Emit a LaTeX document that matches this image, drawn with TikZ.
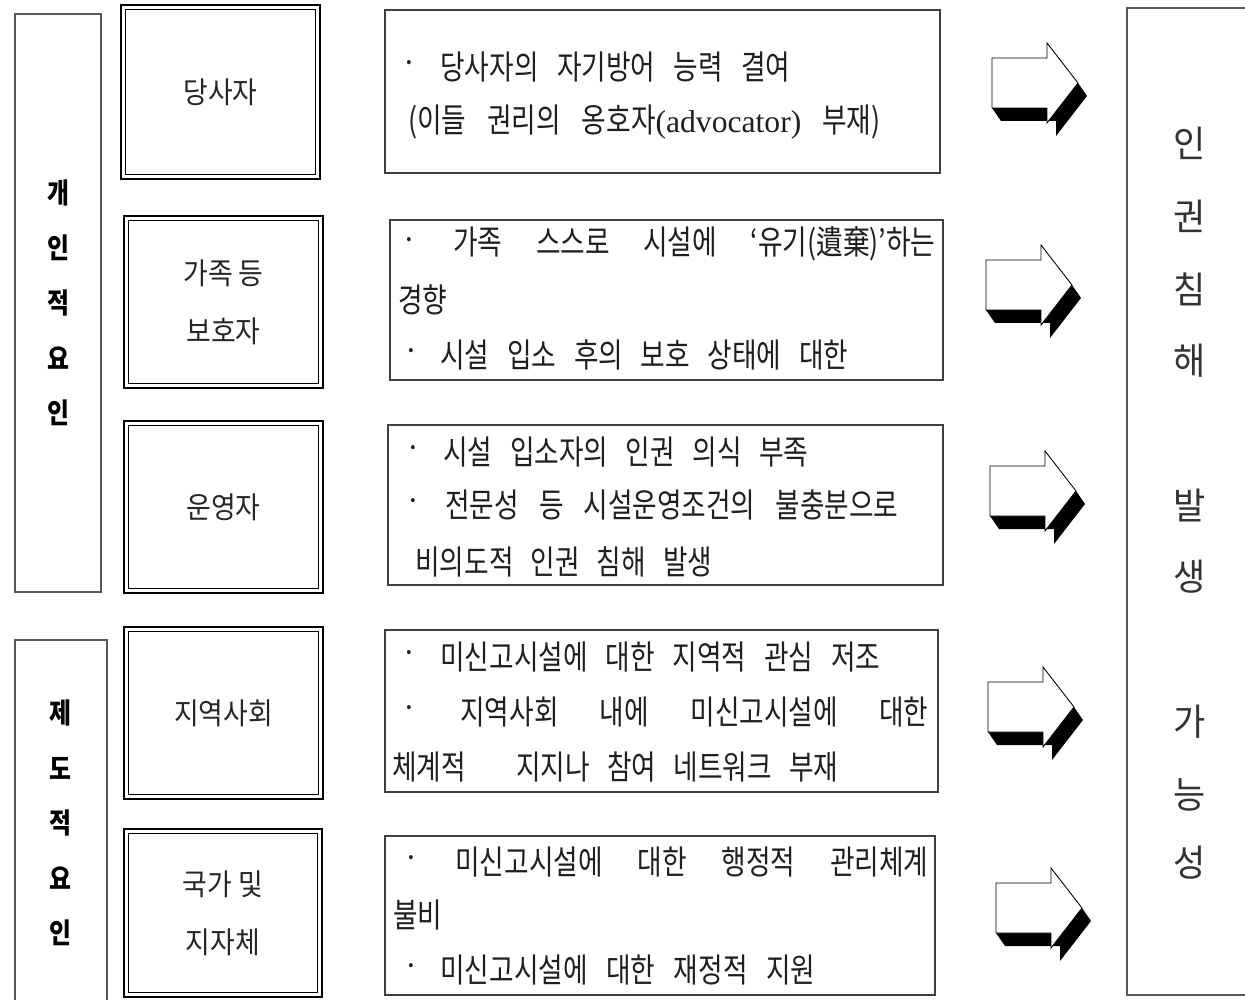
\documentclass[tikz,border=0pt]{standalone}
\usepackage{fontspec}
\setmainfont{Noto Sans CJK KR}
\newfontfamily\krc{Noto Sans CJK KR}[FakeStretch=0.9]
\newfontfamily\krt{Noto Sans CJK KR}[FakeStretch=0.8]
\newfontfamily\krv{Noto Sans CJK KR}[FakeStretch=0.85]
\newfontfamily\krw{Noto Sans CJK KR}[FakeStretch=0.95]
\newfontfamily\lser{Liberation Serif}
\newcommand\jl[2]{\makebox[\dimexpr0.02cm*#1\relax][s]{#2}}
\tikzset{
  sz/.style 2 args={minimum width=#1*0.02cm, minimum height=#2*0.02cm},
  lbox/.style={draw=black!65, line width=0.7pt, inner sep=0},
  dbox/.style={draw=black, line width=1.6pt, inner sep=0, align=center,
    font=\krc\fontsize{17}{33}\selectfont, text=black!85},
  tbox/.style={draw=black!75, line width=0.8pt, inner sep=0},
  ln/.style={anchor=west, inner sep=0, font=\krt\fontsize{19}{22}\selectfont, text=black!88},
  bul/.style={inner sep=0, font=\krw\fontsize{17}{20}\selectfont, text=black!88},
  vlab/.style={inner sep=0, font=\krv\bfseries\fontsize{16}{18}\selectfont, text=black},
  rlab/.style={inner sep=0, font=\krw\fontsize{21}{23}\selectfont, text=black!80},
  fatarrow/.pic={
    \fill[black] (0,50) -- (9,63) -- (64,63) -- (64,78) -- (95,38) -- (86,25)
       -- (55,65) -- (55,50) -- cycle;
    \filldraw[fill=white, draw=black, line width=0.5pt] (0,0) -- (55,0) -- (55,-15)
       -- (86,25) -- (55,65) -- (55,50) -- (0,50) -- cycle;
  }
}
\begin{document}
\begin{tikzpicture}[x=0.02cm, y=-0.02cm]
\useasboundingbox (0,0) rectangle (1245,1000);
\clip (0,0) rectangle (1245,1000);
\fill[white] (0,0) rectangle (1245,1000);

% left factor boxes
\node[lbox, sz={86}{578}] (L1) at (58,303) {};
\node[lbox, sz={92}{375}] (L2) at (61,827.5) {};
\foreach \c [count=\i] in {개,인,적,요,인}
  \node[vlab] (la\i) at (58,{193+55*(\i-1)}) {\c};
\foreach \c [count=\i] in {제,도,적,요,인}
  \node[vlab] (lb\i) at (60,{713+55*(\i-1)}) {\c};

% double boxes
\node[dbox, sz={199}{174}] (d1) at (220.5,92) {당사자};
\node[dbox, sz={199}{172}] (d2) at (223.5,302) {가족 등\\보호자};
\node[dbox, sz={199}{172}] (d3) at (223.5,507) {운영자};
\node[dbox, sz={199}{172}] (d4) at (223.5,713) {지역사회};
\node[dbox, sz={198}{168}] (d5) at (223,913) {국가 및\\지자체};
\foreach \n in {d1,d2,d3,d4,d5}
  \draw[line width=0.8pt] ([shift={(6,6)}]\n.north west) rectangle ([shift={(-6,-6)}]\n.south east);

% text boxes
\node[tbox, sz={555}{163}] (t1) at (662.5,91.5) {};
\node[tbox, sz={553}{160}] (t2) at (666.5,300) {};
\node[tbox, sz={555}{160}] (t3) at (665.5,505) {};
\node[tbox, sz={553}{162}] (t4) at (661.5,711) {};
\node[tbox, sz={550}{159}] (t5) at (660,915.5) {};

% bullets
\foreach \x/\y [count=\i] in {409/67, 409/244, 411/355, 413/452, 413/505, 409/657, 409/712, 411/862, 411/970}
  \node[bul] (b\i) at (\x,\y) {·};

\node[ln] (t1a) at (440,67) {\jl{350}{당사자의 자기방어 능력 결여}};
\node[ln] (t1b) at (408,122) {\jl{472}{(이들 권리의 옹호자{\lser\fontsize{18}{20}\selectfont(advocator)} 부재)}};
\node[ln] (t2a) at (453,244) {\jl{482}{가족 스스로 시설에 ‘유기(遺棄)’하는}};
\node[ln] (t2b) at (398,300) {경향};
\node[ln] (t2c) at (440,355) {\jl{408}{시설 입소 후의 보호 상태에 대한}};
\node[ln] (t3a) at (443,452) {\jl{365}{시설 입소자의 인권 의식 부족}};
\node[ln] (t3b) at (445,505) {\jl{453}{전문성 등 시설운영조건의 불충분으로}};
\node[ln] (t3c) at (415,562) {\jl{297}{비의도적 인권 침해 발생}};
\node[ln] (t4a) at (440,657) {\jl{440}{미신고시설에 대한 지역적 관심 저조}};
\node[ln] (t4b) at (460,712) {\jl{468}{지역사회 내에 미신고시설에 대한}};
\node[ln] (t4c) at (392,767) {\jl{446}{체계적\hspace{1.5em}지지나 참여 네트워크 부재}};
\node[ln] (t5a) at (455,862) {\jl{473}{미신고시설에 대한 행정적 관리체계}};
\node[ln] (t5b) at (393,915) {불비};
\node[ln] (t5c) at (440,970) {\jl{375}{미신고시설에 대한 재정적 지원}};

% block arrows
\pic (a1) at (992,58) {fatarrow};
\pic (a2) at (986,260) {fatarrow};
\pic (a3) at (990,466) {fatarrow};
\pic (a4) at (988,682) {fatarrow};
\pic (a5) at (996,883) {fatarrow};

% result box
\node[lbox, sz={140}{987}] (R) at (1197,501.5) {};
\foreach \c/\y [count=\i] in {인/143,권/216,침/289,해/361,발/505,생/577,가/722,능/795,성/863}
  \node[rlab] (r\i) at (1190,\y) {\c};
\end{tikzpicture}
\end{document}
